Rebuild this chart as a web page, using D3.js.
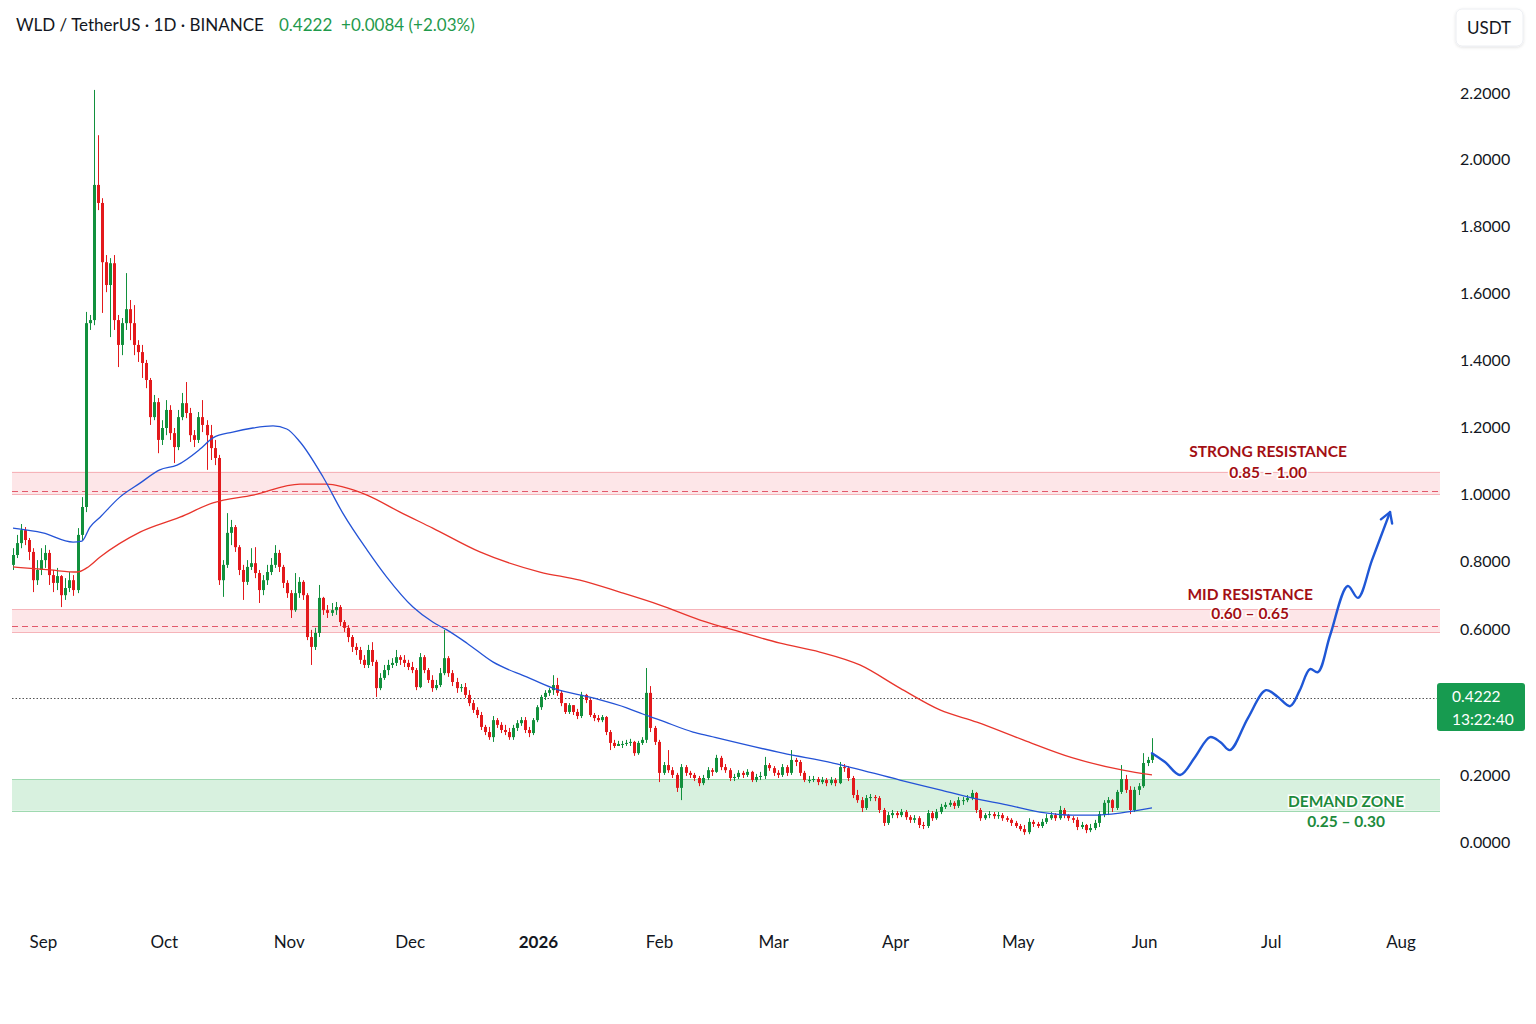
<!DOCTYPE html>
<html>
<head>
<meta charset="utf-8">
<script src="https://cdn.jsdelivr.net/npm/d3@7"></script>
<style>
  body { margin: 0; background: #fff; }
  svg { display: block; font-family: Lato, "Noto Sans", sans-serif; }
</style>
</head>
<body>
<div id="graf"></div>
<script>
// daily candles, open = previous close
const open0 = 0.814
const closes = [0.843,0.878,0.916,0.887,0.852,0.769,0.799,0.828,0.849,0.784,
0.761,0.781,0.725,0.746,0.769,0.740,0.902,0.984,1.524,1.533,
1.930,1.877,1.703,1.636,1.700,1.533,1.460,1.524,1.565,1.524,
1.460,1.439,1.407,1.357,1.248,1.292,1.181,1.216,1.269,1.201,
1.160,1.248,1.289,1.260,1.195,1.181,1.248,1.225,1.195,1.157,
1.128,0.769,0.814,0.908,0.925,0.866,0.799,0.764,0.808,0.819,
0.790,0.740,0.769,0.793,0.814,0.849,0.808,0.761,0.731,0.681,
0.731,0.764,0.725,0.602,0.573,0.614,0.717,0.681,0.673,0.681,
0.690,0.646,0.629,0.602,0.573,0.564,0.535,0.520,0.564,0.529,
0.452,0.482,0.505,0.520,0.526,0.543,0.535,0.526,0.514,0.505,
0.455,0.543,0.505,0.476,0.452,0.461,0.496,0.540,0.496,0.470,
0.452,0.455,0.432,0.408,0.388,0.373,0.338,0.323,0.308,0.358,
0.344,0.329,0.323,0.308,0.335,0.349,0.358,0.329,0.320,0.358,
0.396,0.426,0.438,0.446,0.461,0.438,0.408,0.382,0.402,0.382,
0.370,0.432,0.417,0.373,0.364,0.358,0.367,0.323,0.291,0.282,
0.288,0.288,0.291,0.294,0.261,0.291,0.300,0.438,0.335,0.294,
0.203,0.226,0.211,0.197,0.159,0.220,0.203,0.197,0.188,0.173,
0.188,0.211,0.206,0.247,0.220,0.211,0.188,0.191,0.203,0.197,
0.206,0.182,0.191,0.194,0.226,0.217,0.203,0.197,0.220,0.203,
0.241,0.235,0.203,0.182,0.182,0.185,0.176,0.182,0.173,0.182,
0.173,0.220,0.217,0.188,0.138,0.123,0.100,0.129,0.132,0.129,
0.094,0.056,0.079,0.085,0.079,0.088,0.073,0.065,0.070,0.050,
0.047,0.085,0.070,0.088,0.103,0.109,0.115,0.106,0.123,0.123,
0.129,0.144,0.094,0.070,0.079,0.082,0.076,0.079,0.070,0.065,
0.056,0.047,0.038,0.029,0.059,0.053,0.047,0.059,0.070,0.079,
0.070,0.094,0.079,0.070,0.065,0.044,0.050,0.035,0.041,0.056,
0.082,0.115,0.123,0.100,0.147,0.185,0.153,0.094,0.153,0.164,
0.232,0.241,0.261]

const highs = [0.863,0.902,0.934,0.925,0.893,0.863,0.828,0.863,0.872,0.858,
0.799,0.805,0.784,0.775,0.793,0.784,0.922,1.013,1.557,1.548,
2.209,2.076,1.891,1.724,1.715,1.724,1.548,1.539,1.671,1.592,
1.577,1.474,1.460,1.416,1.363,1.313,1.304,1.239,1.298,1.283,
1.216,1.269,1.319,1.351,1.275,1.210,1.263,1.298,1.239,1.225,
1.181,1.137,0.828,0.966,0.946,0.931,0.872,0.814,0.828,0.863,
0.866,0.799,0.784,0.814,0.834,0.872,0.858,0.814,0.769,0.740,
0.790,0.778,0.769,0.731,0.623,0.629,0.755,0.720,0.696,0.702,
0.705,0.696,0.652,0.637,0.608,0.584,0.573,0.549,0.579,0.587,
0.535,0.496,0.520,0.535,0.540,0.564,0.549,0.549,0.535,0.529,
0.511,0.555,0.549,0.511,0.490,0.476,0.511,0.623,0.546,0.505,
0.482,0.464,0.467,0.446,0.417,0.396,0.382,0.344,0.338,0.370,
0.364,0.352,0.344,0.335,0.344,0.358,0.367,0.367,0.338,0.364,
0.402,0.432,0.446,0.452,0.490,0.482,0.446,0.408,0.408,0.402,
0.391,0.441,0.435,0.420,0.379,0.373,0.373,0.370,0.329,0.300,
0.297,0.297,0.300,0.303,0.297,0.297,0.308,0.511,0.458,0.341,
0.300,0.235,0.270,0.220,0.203,0.229,0.226,0.209,0.203,0.194,
0.197,0.220,0.217,0.256,0.253,0.229,0.217,0.200,0.211,0.209,
0.214,0.209,0.200,0.206,0.250,0.232,0.223,0.211,0.229,0.226,
0.270,0.247,0.241,0.209,0.194,0.194,0.191,0.191,0.188,0.191,
0.188,0.235,0.229,0.223,0.194,0.153,0.132,0.138,0.141,0.138,
0.135,0.100,0.088,0.094,0.091,0.097,0.094,0.079,0.079,0.076,
0.059,0.094,0.091,0.097,0.112,0.117,0.123,0.120,0.132,0.132,
0.138,0.153,0.147,0.100,0.085,0.091,0.088,0.088,0.085,0.076,
0.070,0.062,0.053,0.050,0.070,0.065,0.059,0.068,0.082,0.088,
0.085,0.106,0.100,0.082,0.076,0.073,0.059,0.053,0.053,0.065,
0.091,0.123,0.132,0.126,0.153,0.226,0.197,0.164,0.162,0.173,
0.261,0.250,0.305]

const lows = [0.799,0.834,0.863,0.872,0.828,0.734,0.755,0.784,0.805,0.755,
0.734,0.740,0.690,0.711,0.734,0.723,0.731,0.887,0.969,1.504,
1.518,1.856,1.554,1.615,1.483,1.504,1.395,1.430,1.504,1.474,
1.430,1.410,1.363,1.333,1.225,1.239,1.142,1.166,1.195,1.181,
1.113,1.151,1.239,1.245,1.175,1.160,1.172,1.204,1.093,1.122,
1.107,0.755,0.720,0.805,0.872,0.852,0.784,0.711,0.755,0.799,
0.775,0.702,0.725,0.755,0.784,0.805,0.793,0.746,0.717,0.658,
0.676,0.717,0.711,0.593,0.520,0.564,0.602,0.667,0.658,0.664,
0.667,0.634,0.617,0.587,0.558,0.549,0.523,0.511,0.511,0.517,
0.426,0.446,0.476,0.490,0.511,0.517,0.520,0.514,0.505,0.496,
0.446,0.452,0.496,0.467,0.441,0.446,0.455,0.490,0.485,0.458,
0.438,0.441,0.423,0.399,0.379,0.364,0.329,0.314,0.300,0.294,
0.335,0.320,0.314,0.300,0.300,0.326,0.341,0.320,0.308,0.314,
0.352,0.388,0.417,0.429,0.432,0.429,0.399,0.376,0.376,0.373,
0.361,0.364,0.408,0.367,0.355,0.352,0.352,0.314,0.270,0.276,
0.285,0.276,0.282,0.282,0.253,0.256,0.285,0.291,0.323,0.285,
0.176,0.197,0.203,0.188,0.147,0.123,0.194,0.188,0.179,0.164,
0.167,0.182,0.194,0.203,0.211,0.203,0.179,0.179,0.185,0.188,
0.191,0.176,0.176,0.182,0.185,0.209,0.194,0.188,0.191,0.194,
0.197,0.223,0.194,0.176,0.173,0.176,0.167,0.170,0.164,0.167,
0.164,0.170,0.206,0.179,0.129,0.115,0.088,0.094,0.120,0.120,
0.085,0.047,0.050,0.070,0.070,0.073,0.065,0.056,0.056,0.041,
0.038,0.041,0.062,0.065,0.082,0.097,0.103,0.097,0.100,0.109,
0.117,0.123,0.085,0.062,0.065,0.070,0.068,0.068,0.062,0.059,
0.047,0.041,0.032,0.021,0.023,0.044,0.041,0.041,0.053,0.065,
0.062,0.065,0.070,0.062,0.056,0.035,0.038,0.026,0.029,0.035,
0.044,0.073,0.079,0.088,0.094,0.141,0.144,0.082,0.088,0.138,
0.159,0.223,0.232]

// moving averages (bar index, value)
const blueIdx = [0,7.4,14.9,17.1,19.1,21.6,26.5,31.5,36.4,40.7,46.4,49.6,54.5,59.5,64.5,67.9,71.2,76.9,81.8,87.8,92.7,99.2,104.1,107.6,112.6,119,127.4,133.9,143.8,152.2,156.2,160.2,167.7,171.5,188.1,199.5,214.7,223.8,231.3,239,246.5,254,258.6,264.7,272]
const blueVal = [0.922,0.908,0.881,0.884,0.925,0.954,1.013,1.054,1.093,1.107,1.154,1.187,1.204,1.216,1.222,1.213,1.175,1.072,0.966,0.858,0.778,0.690,0.646,0.623,0.584,0.529,0.485,0.452,0.423,0.394,0.376,0.358,0.323,0.311,0.261,0.232,0.182,0.153,0.129,0.109,0.088,0.079,0.079,0.085,0.100]
const redIdx = [0,9.2,15.9,18.3,21.6,31.5,41.4,49.6,59.5,71.2,77.9,81.8,87.8,96,104.1,115.8,130.7,140.6,150.5,160.2,169.3,178.4,187.5,196.5,205.6,214.7,223.8,232.2,242.7,254,265.4,272]
const redVal = [0.808,0.799,0.793,0.805,0.837,0.910,0.954,0.996,1.019,1.051,1.051,1.043,1.019,0.969,0.922,0.852,0.793,0.769,0.734,0.696,0.652,0.617,0.584,0.558,0.520,0.452,0.388,0.352,0.300,0.247,0.211,0.197]

// projected path
const projIdx = [272,274.95,278.4,281.8,285.2,287.5,289.7,293.8,297.9,300.6,303.4,305.6,307.9,309.7,312.5,316.5,318.8,322,326.1]
const projVal = [0.261,0.235,0.197,0.250,0.308,0.294,0.270,0.364,0.446,0.426,0.399,0.446,0.508,0.499,0.608,0.752,0.717,0.828,0.969]

// zones
const strongZone = [1.022, 1.088], strongMid = 1.031
const midZone = [0.617, 0.683], midMid = 0.635
const demandZone = [0.092, 0.184]
const lastPrice = 0.4222

// 0.4000 sits under the price tag in the reference, so it is not listed
const yTicks = [0,0.2,0.6,0.8,1.0,1.2,1.4,1.6,1.8,2.0,2.2]
const monthIdx = [7.4,37.4,68.4,98.4,130.2,159.95,185.9,213.6,241.5,270.2,299,328.5]
const monthLbl = ['Sep','Oct','Nov','Dec','2026','Feb','Mar','Apr','May','Jun','Jul','Aug']

const ancho = 1536, alto = 1024
const plotL = 12, plotR = 1440

const svg = d3.select('#graf').append('svg')
  .attr('width', ancho).attr('height', alto)

svg.append('rect').attr('width', ancho).attr('height', alto).attr('fill', '#fff')

// bars are a bit wider apart after the Feb spike
const x = d3.scaleLinear().domain([0, 157, closes.length - 1]).range([13, 646, 1152])
const y = d3.scaleLinear().domain([0, 2.2]).range([842, 93])
// price labels keep the uneven spacing of the reference axis
const yLab = d3.scaleLinear().domain([0, 0.2, 0.6, 1.0, 2.2]).range([842, 775, 629, 494, 93])

const defs = svg.append('defs')
defs.append('marker').attr('id', 'arr')
  .attr('viewBox', '-12 -8 14 16').attr('markerWidth', 14).attr('markerHeight', 16)
  .attr('markerUnits', 'userSpaceOnUse').attr('refX', 0).attr('refY', 0).attr('orient', 'auto')
  .append('path').attr('d', 'M-10,-6 L0,0 L-10,6')
  .attr('fill', 'none').attr('stroke', '#1f57d6').attr('stroke-width', 2.4)
  .attr('stroke-linecap', 'round').attr('stroke-linejoin', 'round')
defs.append('filter').attr('id', 'sh').attr('x', '-20%').attr('y', '-20%').attr('width', '140%').attr('height', '160%')
  .append('feDropShadow').attr('dx', 0).attr('dy', 1).attr('stdDeviation', 1.5).attr('flood-opacity', 0.12)

// zones
const zones = [
  { r: strongZone, mid: strongMid, fill: '#fde6e8', edge: '#f6b3b9', dash: '#e2596b' },
  { r: midZone, mid: midMid, fill: '#fde6e8', edge: '#f6b3b9', dash: '#e2596b' },
  { r: demandZone, mid: null, fill: '#d8f1df', edge: '#9fd9b0', dash: null }
]
const zg = svg.append('g')
zones.forEach(z => {
  zg.append('rect').attr('x', plotL).attr('width', plotR - plotL)
    .attr('y', y(z.r[1])).attr('height', y(z.r[0]) - y(z.r[1])).attr('fill', z.fill)
  z.r.forEach(v => {
    zg.append('line').attr('x1', plotL).attr('x2', plotR)
      .attr('y1', Math.round(y(v)) + 0.5).attr('y2', Math.round(y(v)) + 0.5)
      .attr('stroke', z.edge).attr('stroke-width', 1)
  })
  if (z.mid !== null) {
    zg.append('line').attr('x1', plotL).attr('x2', plotR)
      .attr('y1', Math.round(y(z.mid)) + 0.5).attr('y2', Math.round(y(z.mid)) + 0.5)
      .attr('stroke', z.dash).attr('stroke-width', 1).attr('stroke-dasharray', '6,4')
  }
})

// last price dotted line
svg.append('line').attr('x1', plotL).attr('x2', 1437)
  .attr('y1', Math.round(y(lastPrice)) + 0.5).attr('y2', Math.round(y(lastPrice)) + 0.5)
  .attr('stroke', '#555').attr('stroke-width', 1).attr('stroke-dasharray', '1.5,2')

// candles
const bars = closes.map((c, i) => {
  const o = i ? closes[i - 1] : open0
  return { i, o, c, h: Math.max(highs[i], o, c), l: Math.min(lows[i], o, c) }
})
const up = '#12903d', down = '#e3191c'
const cg = svg.append('g')
cg.selectAll('line.wick').data(bars).join('line')
  .attr('class', 'wick')
  .attr('x1', d => Math.round(x(d.i)) + 0.5).attr('x2', d => Math.round(x(d.i)) + 0.5)
  .attr('y1', d => y(d.h)).attr('y2', d => y(d.l))
  .attr('stroke', d => d.c >= d.o ? up : down).attr('stroke-width', 1)
cg.selectAll('rect.body').data(bars).join('rect')
  .attr('class', 'body')
  .attr('x', d => Math.round(x(d.i)) - 1)
  .attr('width', 3)
  .attr('y', d => y(Math.max(d.o, d.c)))
  .attr('height', d => Math.max(1, Math.abs(y(d.o) - y(d.c))))
  .attr('fill', d => d.c >= d.o ? up : down)

// moving averages
const maLine = d3.line().x(d => x(d[0])).y(d => y(d[1])).curve(d3.curveMonotoneX)
svg.append('path').datum(redIdx.map((v, i) => [v, redVal[i]]))
  .attr('d', maLine).attr('fill', 'none').attr('stroke', '#e8352c').attr('stroke-width', 1.3)
svg.append('path').datum(blueIdx.map((v, i) => [v, blueVal[i]]))
  .attr('d', maLine).attr('fill', 'none').attr('stroke', '#2453d6').attr('stroke-width', 1.3)

// projection
const projLine = d3.line().x(d => x(d[0])).y(d => y(d[1])).curve(d3.curveCatmullRom.alpha(0.5))
svg.append('path').datum(projIdx.map((v, i) => [v, projVal[i]]))
  .attr('d', projLine).attr('fill', 'none').attr('stroke', '#1f57d6').attr('stroke-width', 2.4)
  .attr('stroke-linecap', 'round').attr('marker-end', 'url(#arr)')

// zone labels
const labels = [
  { t: 'STRONG RESISTANCE', i: 298.4, v: 1.130, c: '#a30f14' },
  { t: '0.85 – 1.00', i: 298.4, v: 1.068, c: '#a30f14' },
  { t: 'MID RESISTANCE', i: 294.3, v: 0.712, c: '#a30f14' },
  { t: '0.60 – 0.65', i: 294.3, v: 0.654, c: '#a30f14' },
  { t: 'DEMAND ZONE', i: 316.1, v: 0.104, c: '#1d8b3c' },
  { t: '0.25 – 0.30', i: 316.1, v: 0.043, c: '#1d8b3c' }
]
svg.append('g').selectAll('text').data(labels).join('text')
  .attr('x', d => x(d.i)).attr('y', d => y(d.v))
  .attr('text-anchor', 'middle')
  .attr('font-size', 15.5).attr('font-weight', 700)
  .attr('fill', d => d.c)
  .attr('stroke', '#fff').attr('stroke-width', 3).attr('paint-order', 'stroke')
  .text(d => d.t)

// price axis
const yAxisGroup = svg.append('g').attr('transform', 'translate(1452,0)')
yAxisGroup.call(d3.axisRight(yLab).tickValues(yTicks).tickSize(0).tickPadding(8).tickFormat(d3.format('.4f')))
yAxisGroup.select('.domain').remove()
yAxisGroup.selectAll('text').attr('font-size', 16).attr('fill', '#131722').attr('font-family', 'Lato, "Noto Sans", sans-serif')

// time axis
const xAxisGroup = svg.append('g').attr('transform', 'translate(0,928)')
xAxisGroup.call(d3.axisBottom(x).tickValues(monthIdx).tickSize(0).tickPadding(8)
  .tickFormat((d, i) => monthLbl[i]))
xAxisGroup.select('.domain').remove()
xAxisGroup.selectAll('text').attr('font-size', 17).attr('fill', '#131722')
  .attr('font-family', 'Lato, "Noto Sans", sans-serif')
  .attr('font-weight', (d, i) => monthLbl[i] === '2026' ? 700 : 400)

// last price tag
const tag = svg.append('g')
tag.append('rect').attr('x', 1437).attr('y', 683).attr('width', 88).attr('height', 48)
  .attr('rx', 3).attr('fill', '#179b50')
tag.append('text').attr('x', 1452).attr('y', 702).attr('font-size', 15.5).attr('fill', '#fff')
  .text(d3.format('.4f')(lastPrice))
tag.append('text').attr('x', 1452).attr('y', 725).attr('font-size', 15.5).attr('fill', '#fff')
  .text('13:22:40')

// header
svg.append('text').attr('x', 16).attr('y', 31).attr('font-size', 17).attr('fill', '#131722')
  .text('WLD / TetherUS · 1D · BINANCE')
svg.append('text').attr('x', 279).attr('y', 31).attr('font-size', 17).attr('fill', '#1f9a4c')
  .text('0.4222  +0.0084 (+2.03%)').attr('xml:space', 'preserve').style('white-space', 'pre')

// currency box
svg.append('rect').attr('x', 1456).attr('y', 9).attr('width', 67).attr('height', 37)
  .attr('rx', 6).attr('fill', '#fff').attr('stroke', '#eceef2').attr('filter', 'url(#sh)')
svg.append('text').attr('x', 1489).attr('y', 34).attr('text-anchor', 'middle')
  .attr('font-size', 17).attr('fill', '#131722').text('USDT')
</script>
</body>
</html>
